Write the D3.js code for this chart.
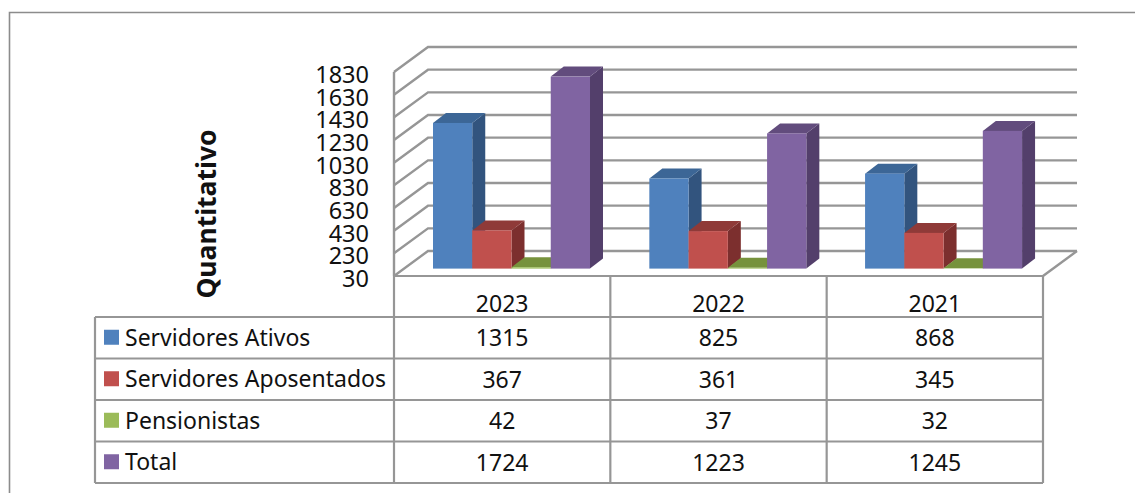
<!DOCTYPE html>
<html><head><meta charset="utf-8">
<script src="https://cdn.jsdelivr.net/npm/d3@7"></script>
<style>html,body{margin:0;padding:0;background:#fff;overflow:hidden}svg{display:block}text{font-family:"Noto Sans",sans-serif;fill:#111}</style>
</head><body><svg id="c" width="1135" height="493"></svg>
<script>
const categories = ["2023","2022","2021"];
const seriesNames = ["Servidores Ativos","Servidores Aposentados","Pensionistas","Total"];
const ativos = [1315,825,868];
const aposentados = [367,361,345];
const pensionistas = [42,37,32];
const total = [1724,1223,1245];
const tickLabels = [30,230,430,630,830,1030,1230,1430,1630,1830];
const frontColors = ["#4f81bd","#c0504d","#9bbb59","#8064a2"];
const topColors = ["#3c6696","#8f3a38","#76923c","#624c7d"];
const sideColors = ["#32547e","#7c2f2e","#667f33","#533f6b"];
const allSeries = [ativos,aposentados,pensionistas,total];

const GRID="#969696";
const svg=d3.select("#c");
const y=d3.scaleLinear().domain([30,1830]).range([276,72]);
const x0=d3.scaleBand().domain(categories).range([394,1043]);
const x1=d3.scaleBand().domain(d3.range(4)).range([39,196]);
const rowY=d3.scaleBand().domain(d3.range(4)).range([317,483]);
const wall={dx:34,dy:-25}, bar={dx:13,dy:-10,base:-7.4};

// outer frame
svg.append("path").attr("d","M9.5,493V12.5H1135").attr("fill","none").attr("stroke","#8c8c8c").attr("stroke-width",1.6);

// walls
const g=svg.append("g").attr("fill","none").attr("stroke",GRID).attr("stroke-width",2.4);
tickLabels.forEach(t=>{
  const yy=y(t);
  g.append("path").attr("d",d3.line()([[394,yy],[394+wall.dx,yy+wall.dy],[1043+wall.dx,yy+wall.dy]]));
});
g.append("path").attr("d",d3.line()([[1043,y(30)],[1043+wall.dx,y(30)+wall.dy]]));

// bars
categories.forEach((c,ci)=>{
  allSeries.forEach((vals,si)=>{
    const v=vals[ci], w=x1.bandwidth(), L=x0(c)+x1(si)-(ci===2?0.6:0), R=L+w, B=y(30)+bar.base, T=y(v)+bar.base;
    const G=svg.append("g");
    G.append("path").attr("fill",sideColors[si]).attr("d",d3.line()([[R,T],[R+bar.dx,T+bar.dy],[R+bar.dx,B+bar.dy],[R,B]])+"Z");
    G.append("path").attr("fill",topColors[si]).attr("d",d3.line()([[L,T],[L+bar.dx,T+bar.dy],[R+bar.dx,T+bar.dy],[R,T]])+"Z");
    G.append("rect").attr("x",L).attr("y",T).attr("width",w).attr("height",B-T).attr("fill",frontColors[si]);
  });
});

// y axis
const ax=svg.append("g").attr("transform","translate(369,2)").call(d3.axisLeft(y).tickValues(tickLabels).tickSize(0).tickPadding(0).tickFormat(d3.format("d")));
ax.select(".domain").remove();
ax.selectAll("text").style("font-family",'"Noto Sans",sans-serif').style("font-size","23.5px").attr("fill","#111").attr("dy","0.36em");
svg.append("path").attr("d",`M394,${y(1830)}V${y(30)}`).attr("stroke",GRID).attr("stroke-width",2.4).attr("fill","none");

// axis title
svg.append("text").attr("transform","translate(216,214) rotate(-90)").attr("text-anchor","middle").style("font-weight",700).style("font-size","26.5px").text("Quantitativo");

// table
const t=svg.append("g").attr("stroke",GRID).attr("stroke-width",2.2).attr("fill","none");
const colEdges=categories.map(c=>x0(c)).concat([1043]);
t.append("path").attr("d",`M394,276H1043`);
[0,1,2,3].forEach(i=>t.append("path").attr("d",`M95,${rowY(i)}H1043`));
t.append("path").attr("d",`M95,483H1043`);
t.append("path").attr("d",`M95,317V483`);
colEdges.forEach(e=>t.append("path").attr("d",`M${e},276V483`));

categories.forEach(c=>{
  svg.append("text").attr("x",x0(c)+x0.bandwidth()/2).attr("y",312).attr("text-anchor","middle").style("font-size","23px").text(c);
});
seriesNames.forEach((n,i)=>{
  const cy=rowY(i)+rowY.bandwidth()/2;
  svg.append("rect").attr("x",104).attr("y",cy-8).attr("width",15).attr("height",15).attr("fill",frontColors[i]);
  svg.append("text").attr("x",125).attr("y",cy+8).style("font-size","23px").text(n);
  categories.forEach((c,ci)=>{
    svg.append("text").attr("x",x0(c)+x0.bandwidth()/2).attr("y",cy+8.5).attr("text-anchor","middle").style("font-size","23px").text(allSeries[i][ci]);
  });
});
</script></body></html>
